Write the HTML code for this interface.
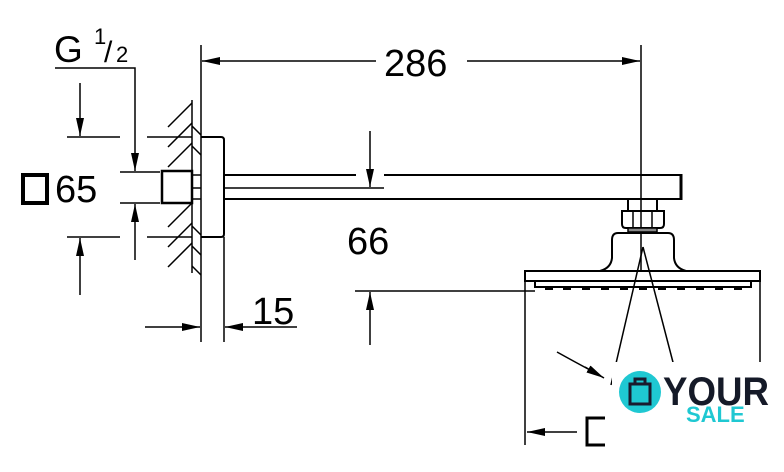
<!DOCTYPE html>
<html><head><style>
html,body{margin:0;padding:0;background:#fff;width:784px;height:472px;overflow:hidden}
svg{display:block}
text{font-family:"Liberation Sans",sans-serif;fill:#000}
</style></head><body>
<svg width="784" height="472" viewBox="0 0 784 472" xmlns="http://www.w3.org/2000/svg">
<defs>
<marker id="a" viewBox="0 0 18 8" refX="18" refY="4" markerWidth="18" markerHeight="8" markerUnits="userSpaceOnUse" orient="auto"><path d="M0,0L18,4L0,8z" fill="#000"/></marker>
</defs>
<g stroke="#000" fill="none" stroke-width="1.5">
<line x1="201" y1="45" x2="201" y2="342"/>
<line x1="641" y1="45" x2="641" y2="272"/>
<line x1="376" y1="61" x2="202" y2="61" marker-end="url(#a)"/>
<line x1="467" y1="61" x2="640" y2="61" marker-end="url(#a)"/>
<line x1="192" y1="100" x2="192" y2="273"/>
<path d="M168,127l24,-24 M168,147l24,-24 M168,167l24,-24 M168,227l24,-24 M168,247l24,-24 M168,267l24,-24 M192,126l9,9 M192,146l9,9 M192,226l9,9 M192,246l9,9 M192,266l9,9"/>
<rect x="162" y="171" width="30" height="32" stroke-width="2.5"/>
<line x1="192" y1="175" x2="201" y2="175"/><line x1="192" y1="199" x2="201" y2="199"/>
<line x1="192" y1="188" x2="201" y2="188"/>
<path d="M201,137H221Q224,137 224,140V234Q224,237 221,237H201" stroke-width="2"/>
<line x1="224" y1="175" x2="356" y2="175" stroke-width="2"/>
<line x1="384" y1="175" x2="681" y2="175" stroke-width="2"/>
<line x1="224" y1="199" x2="681" y2="199" stroke-width="2"/>
<line x1="681" y1="174" x2="681" y2="200" stroke-width="3"/>
<line x1="224" y1="188" x2="384" y2="188"/>
<line x1="370" y1="131" x2="370" y2="187" marker-end="url(#a)"/>
<line x1="355" y1="291" x2="535" y2="291"/>
<line x1="370" y1="345" x2="370" y2="292" marker-end="url(#a)"/>
<line x1="145" y1="327" x2="200" y2="327" marker-end="url(#a)"/>
<line x1="297" y1="327" x2="225" y2="327" marker-end="url(#a)"/>
<line x1="224" y1="237" x2="224" y2="342"/>
<line x1="67" y1="137" x2="120" y2="137"/><line x1="147" y1="137" x2="192" y2="137"/>
<line x1="67" y1="237" x2="120" y2="237"/><line x1="147" y1="237" x2="192" y2="237"/>
<line x1="120" y1="172" x2="160" y2="172"/><line x1="120" y1="203" x2="160" y2="203"/>
<line x1="80" y1="83" x2="80" y2="136" marker-end="url(#a)"/>
<line x1="80" y1="295" x2="80" y2="238" marker-end="url(#a)"/>
<path d="M55,68H135V150"/>
<line x1="135" y1="150" x2="135" y2="171" marker-end="url(#a)"/>
<line x1="135" y1="260" x2="135" y2="204" marker-end="url(#a)"/>
<rect x="23" y="175" width="24" height="28" stroke-width="4"/>
<rect x="628" y="199" width="29" height="12" stroke-width="2"/>
<path d="M622,211H664V224Q664,228 660,228H626Q622,228 622,224Z" stroke-width="2"/>
<line x1="633" y1="211" x2="633" y2="228"/><line x1="652" y1="211" x2="652" y2="228"/>
<rect x="628" y="228" width="29" height="4" fill="#888"/>
<path d="M600,271Q611,268 612,258V240Q612,233 618,233H668Q674,233 674,240V258Q675,268 686,271" stroke-width="2"/>
<rect x="525" y="271" width="235" height="10" stroke-width="2"/>
<rect x="535" y="281" width="216" height="6" stroke-width="2"/>
<path d="M545,289h8M563,289h8M582,289h8M601,289h8M620,289h8M639,289h8M658,289h8M677,289h8M696,289h8M715,289h8M734,289h8" stroke-width="2"/>
<line x1="525" y1="281" x2="525" y2="445"/>
<line x1="760" y1="281" x2="760" y2="400"/>
<line x1="643" y1="247" x2="611" y2="385"/>
<line x1="643" y1="247" x2="675" y2="370"/>
<path d="M557,352Q575,362 590,370"/><line x1="585" y1="367" x2="604" y2="378" marker-end="url(#a)"/>
<line x1="577" y1="432" x2="527" y2="432" marker-end="url(#a)"/>
<path d="M605,418H587V445H605" stroke-width="3"/>
</g>
<text x="384" y="76" font-size="38">286</text>
<text x="347" y="254" font-size="38">66</text>
<text x="252" y="324" font-size="38">15</text>
<text x="55" y="202" font-size="38">65</text>
<text x="54" y="62" font-size="37">G</text>
<text x="94" y="44" font-size="22">1</text>
<text x="104" y="62" font-size="30">/</text>
<text x="116" y="62" font-size="22">2</text>
<rect x="612" y="362" width="160" height="66" fill="#fff"/>
<circle cx="640" cy="392" r="21" fill="#1fc8d2"/>
<path d="M630,384h20v20h-20z M635,384v-5h10v5" fill="none" stroke="#1a1a2e" stroke-width="3"/>
<text x="663" y="405" font-size="40" font-weight="bold" style="fill:#151a28" textLength="106" lengthAdjust="spacingAndGlyphs">YOUR</text>
<text x="686" y="422" font-size="22" font-weight="bold" style="fill:#1fc8d2">SALE</text>
</svg>
</body></html>
